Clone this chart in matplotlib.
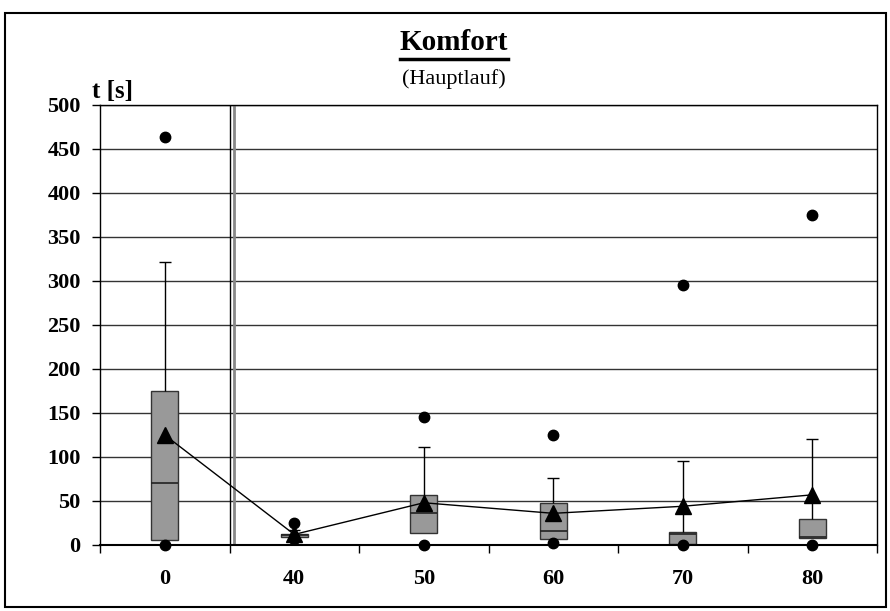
import matplotlib.pyplot as plt
from matplotlib.lines import Line2D
from matplotlib.patches import Rectangle

plt.rcParams['font.family'] = ['Liberation Serif', 'DejaVu Serif']

categories = ['0', '40', '50', '60', '70', '80']
q1 = [6, 9, 14, 7, 1, 8]
median = [70, 11, 36, 16, 12, 9]
q3 = [175, 13, 57, 48, 15, 29]
whisker_top = [322, 17, 111, 76, 96, 121]
mean = [125, 12, 48, 36, 44, 57]
max_val = [464, 25, 145, 125, 296, 375]
min_val = [0, 7, 0, 2, 0, 0]

x = list(range(len(categories)))

fig = plt.figure(figsize=(8.9, 6.11), dpi=100)
ax = fig.add_axes([100 / 890, 1 - 545 / 611, 777 / 890, 440 / 611])

# horizontal grid
for v in range(50, 501, 50):
    ax.axhline(v, color='#333333', lw=1, zorder=0)

# double line separating the reference value from the rest
ax.axvline(0.5, color='black', lw=1, zorder=1)
ax.axvline(0.5 + 4.6 / 129.5, color='#888888', lw=2, zorder=1)

# boxes
heights = [b - a for a, b in zip(q1, q3)]
ax.bar(x, heights, bottom=q1, width=0.21, color='#999999',
       edgecolor='#333333', lw=1, zorder=2)
ax.hlines(median, [i - 0.105 for i in x], [i + 0.105 for i in x],
          color='#222222', lw=1.2, zorder=3)

# upper whiskers with caps
ax.vlines(x, q3, whisker_top, color='black', lw=1, zorder=2)
ax.hlines(whisker_top, [i - 0.047 for i in x], [i + 0.047 for i in x],
          color='black', lw=1, zorder=2)

# extremes
ax.plot(x, max_val, 'o', color='black', ms=7.5, zorder=4, clip_on=False)
ax.plot(x, min_val, 'o', color='black', ms=7.5, zorder=4, clip_on=False)

# mean values
ax.plot(x, mean, '-', color='black', lw=1, marker='^', ms=11, zorder=5)

ax.set_xlim(-0.5, len(categories) - 0.5)
ax.set_ylim(0, 500)
ax.set_yticks(range(0, 501, 50))
ax.set_xticks([i - 0.5 for i in range(len(categories) + 1)])
ax.set_xticklabels([])
ax.set_xticks(x, minor=True)
ax.set_xticklabels(categories, minor=True, fontsize=16, fontweight='bold')
ax.tick_params(axis='x', which='major', direction='out', length=6, width=1)
ax.tick_params(axis='x', which='minor', length=0, pad=17)
ax.tick_params(axis='y', direction='out', length=6, width=1, pad=8)
for lab in ax.get_yticklabels():
    lab.set_fontsize(16)
    lab.set_fontweight('bold')

for s in ax.spines.values():
    s.set_color('black')
    s.set_linewidth(1)
ax.spines['bottom'].set_linewidth(1.5)

# titles
title = fig.text(454 / 890, 1 - 43 / 611, 'Komfort', ha='center', va='center',
                 fontsize=21, fontweight='bold')
fig.text(454 / 890, 1 - 79 / 611, '(Hauptlauf)', ha='center', va='center',
         fontsize=16)
fig.text(92 / 890, 1 - 98 / 611, 't [s]', ha='left', va='baseline',
         fontsize=18, fontweight='bold')

# underline the title
fig.canvas.draw()
bb = title.get_window_extent().transformed(fig.transFigure.inverted())
fig.add_artist(Line2D([bb.x0, bb.x1], [1 - 58.5 / 611] * 2,
                      color='black', lw=2.5, transform=fig.transFigure))

# chart border
fig.add_artist(Rectangle((5 / 890, 1 - 607 / 611), 881 / 890, 594.3 / 611,
                         fill=False, edgecolor='black', lw=1.5,
                         transform=fig.transFigure))

fig.savefig('out.png', dpi=100)
